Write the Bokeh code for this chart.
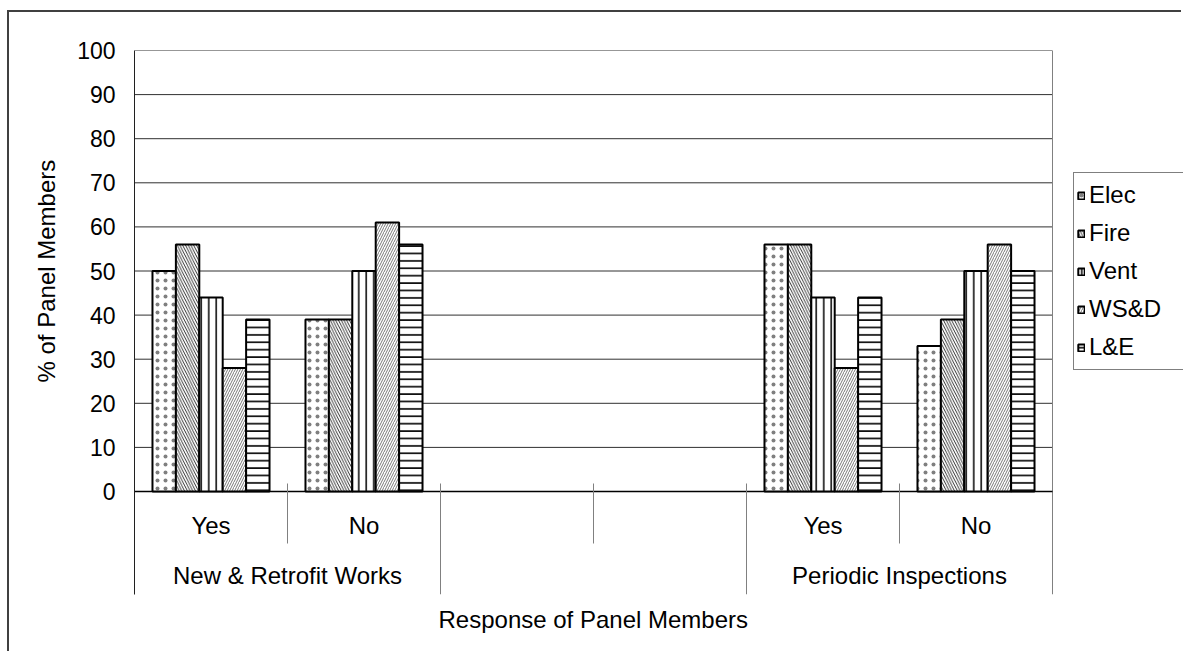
import numpy as np
from bokeh.plotting import figure
from bokeh.models import ColumnDataSource, Range1d, Legend, LegendItem, Title
from bokeh.core.properties import value
from bokeh.embed import file_html
from bokeh.resources import INLINE

# ---------------- data ----------------
categories = ["Yes", "No", "", "", "Yes", "No"]
groups = ["New & Retrofit Works", "", "Periodic Inspections"]
series = ["Elec", "Fire", "Vent", "WS&D", "L&E"]
elec = [50, 39, None, None, 56, 33]
fire = [56, 39, None, None, 56, 39]
vent = [44, 50, None, None, 44, 50]
wsd = [28, 61, None, None, 28, 56]
le = [39, 56, None, None, 44, 50]
y_ticks = [0, 10, 20, 30, 40, 50, 60, 70, 80, 90, 100]
y_title = "% of Panel Members"
x_title = "Response of Panel Members"

# ---------------- layout (page px -> canvas px) ----------------
FONT = "Liberation Sans"
OX, OY = 9, 12                      # canvas origin on the page (css margin)
W, H = 1183 - OX, 653 - OY
PL, PR = 134 - OX, 1052 - OX         # plot-area left / right (canvas px)
FT, FB = 50 - OY, 594 - OY           # frame top / bottom (canvas px)
Y0 = 491 - OY                        # canvas px of value 0
ppu = (Y0 - FT) / 100.0
y_start = -(FB - Y0) / ppu
n_cat = len(categories)
per_group = n_cat // len(groups)
x_end = n_cat * (W - PL) / (PR - PL)  # frame reaches the right edge (room for legend)

p = figure(width=W, height=H, output_backend="svg", toolbar_location=None,
           x_range=Range1d(0, x_end), y_range=Range1d(y_start, 100),
           min_border_left=PL, min_border_right=0,
           min_border_top=FT, min_border_bottom=H - FB)
# chart-area frame: only its left and top edges are inside the picture
p.styles = {"margin-left": f"{OX}px", "margin-top": f"{OY}px",
            "box-shadow": "-2px -2px 0px 0px #404040"}
p.outline_line_color = None
p.background_fill_color = "white"
p.border_fill_color = "white"
p.xgrid.visible = False
p.ygrid.visible = False

p.yaxis.ticker = y_ticks
p.yaxis.axis_line_color = "#202020"
p.yaxis.major_tick_out = 0
p.yaxis.major_tick_in = 0
p.yaxis.minor_tick_line_color = None
p.yaxis.major_label_standoff = 19
p.yaxis.major_label_text_font = FONT
p.yaxis.major_label_text_font_size = "23px"
p.yaxis.major_label_text_color = "black"

p.xaxis.visible = False

# axis titles
p.add_layout(Title(text=y_title, align="left", offset=212, standoff=30,
                   text_font=FONT, text_font_size="24px", text_font_style="normal",
                   text_color="black"), "left")
p.add_layout(Title(text=x_title, align="left", offset=304, standoff=22,
                   vertical_align="top",
                   text_font=FONT, text_font_size="24px", text_font_style="normal",
                   text_color="black"), "below")

# gridlines (stop at the plot-area edge), plot-area right border and zero line
p.segment(x0=[0] * len(y_ticks), x1=[n_cat] * len(y_ticks), y0=y_ticks, y1=y_ticks,
          line_color="#303030", line_width=1)
p.segment(x0=[n_cat], x1=[n_cat], y0=[y_start], y1=[100], line_color="#808080", line_width=1)
p.segment(x0=[0], x1=[n_cat], y0=[0], y1=[0], line_color="black", line_width=1.5)

# ---------------- bars ----------------
values = [elec, fire, vent, wsd, le]
hatches = [
    dict(hatch_pattern=".", hatch_scale=8, hatch_weight=0.2, hatch_color="black", hatch_alpha=0.5),
    dict(hatch_pattern="\\", hatch_scale=5.5, hatch_weight=0.8, hatch_color="black"),
    dict(hatch_pattern="|", hatch_scale=7.5, hatch_weight=1.5, hatch_color="black"),
    dict(hatch_pattern="/", hatch_scale=5, hatch_weight=0.8, hatch_color="#555555"),
    dict(hatch_pattern="-", hatch_scale=7.4, hatch_weight=1.6, hatch_color="black"),
]
bar_w = 0.153
n_s = len(series)
renderers = []
for k, (name, vals, hs) in enumerate(zip(series, values, hatches)):
    idx = [i for i, v in enumerate(vals) if v is not None]
    src = ColumnDataSource(dict(
        x=[i + 0.5 + (k - (n_s - 1) / 2) * bar_w for i in idx],
        top=[vals[i] for i in idx]))
    r = p.vbar(x="x", top="top", bottom=0, width=bar_w, source=src,
               fill_color="white", line_color="black", line_width=2, **hs)
    renderers.append(r)

# ---------------- category axis (two levels) ----------------
cat_idx = [i for i, c in enumerate(categories) if c]
p.text(x=[i + 0.5 for i in cat_idx], y=[-34 / ppu] * len(cat_idx),
       text=[categories[i] for i in cat_idx],
       text_font=value(FONT), text_font_size="24px", text_color="black",
       text_align="center", text_baseline="middle")
grp_idx = [g for g, name in enumerate(groups) if name]
p.text(x=[g * per_group + per_group / 2 for g in grp_idx], y=[-84 / ppu] * len(grp_idx),
       text=[groups[g] for g in grp_idx],
       text_font=value(FONT), text_font_size="24px", text_color="black",
       text_align="center", text_baseline="middle")

bounds = list(range(1, n_cat))
p.segment(x0=bounds, x1=bounds, y0=[8 / ppu] * len(bounds),
          y1=[y_start if b % per_group == 0 else -52 / ppu for b in bounds],
          line_color="#808080", line_width=1)

# ---------------- legend ----------------
lg = Legend(items=[LegendItem(label=s, renderers=[r]) for s, r in zip(series, renderers)],
            location=(1073 - 134, 594 - 370), orientation="vertical",
            label_text_font=FONT, label_text_font_size="24px", label_text_color="black",
            glyph_width=8, glyph_height=9, label_standoff=4,
            label_height=38, label_width=91, spacing=0, padding=3, margin=0,
            border_line_color="black", border_line_width=1,
            background_fill_color="white", background_fill_alpha=1)
p.add_layout(lg)

open("out.html", "w").write(file_html(p, INLINE))
